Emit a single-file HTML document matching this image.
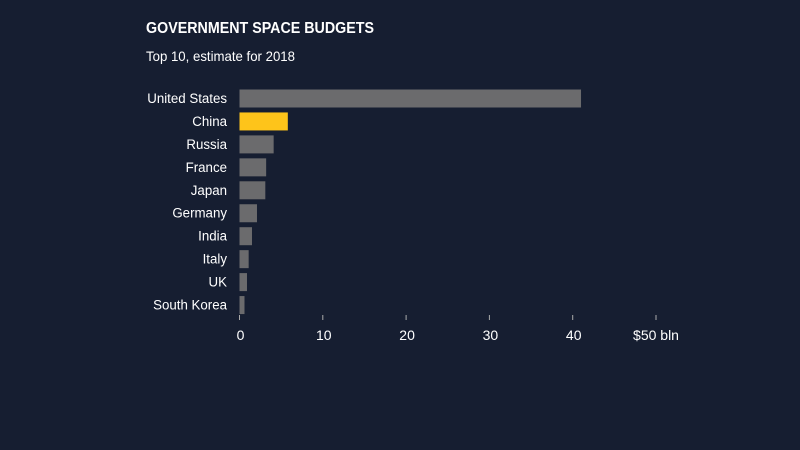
<!DOCTYPE html>
<html><head><meta charset="utf-8"><style>
html,body{margin:0;padding:0;background:#161e31;}
svg{display:block;font-family:"Liberation Sans",sans-serif;}
</style></head><body>
<svg id="chart" width="800" height="450">
<rect width="800" height="450" fill="#161e31"/>
<text x="146" y="33" fill="#fff" font-size="16" font-weight="bold" textLength="228" lengthAdjust="spacingAndGlyphs">GOVERNMENT SPACE BUDGETS</text>
<text x="146" y="61" fill="#fff" font-size="14" textLength="149" lengthAdjust="spacingAndGlyphs">Top 10, estimate for 2018</text>
<g id="bars"></g><g id="axis"></g>
</svg>
<script>
const categories=["United States","China","Russia","France","Japan","Germany","India","Italy","UK","South Korea"];
const values=[41.0,5.8,4.1,3.2,3.1,2.1,1.5,1.1,0.9,0.6];
const highlight=["China"];
const tickValues=[0,10,20,30,40,50];
const tickLabels=["0","10","20","30","40","$50 bln"];
const NS="http://www.w3.org/2000/svg";
const x=v=>239.5+v*8.33;
const y=i=>89.5+i*22.95;
const bars=document.getElementById('bars'),axis=document.getElementById('axis');
categories.forEach((c,i)=>{
  const r=document.createElementNS(NS,'rect');
  r.setAttribute('x',x(0));r.setAttribute('y',y(i));
  r.setAttribute('width',x(values[i])-x(0));r.setAttribute('height',18);
  r.setAttribute('fill',highlight.includes(c)?'#fec41a':'#6b6b6d');
  
  
  bars.appendChild(r);
  const t=document.createElementNS(NS,'text');
  t.setAttribute('x',227);t.setAttribute('y',y(i)+13.5);
  t.setAttribute('text-anchor','end');t.setAttribute('fill','#fff');t.setAttribute('font-size','14');
  t.setAttribute('transform','translate(227,0) scale(0.95,1) translate(-227,0)');
  t.textContent=c;
  
  
  bars.appendChild(t);
});
tickValues.forEach((v,i)=>{
  const l=document.createElementNS(NS,'line');
  l.setAttribute('x1',x(v));l.setAttribute('x2',x(v));l.setAttribute('y1',315);l.setAttribute('y2',320);
  l.setAttribute('stroke','#aaa');l.setAttribute('stroke-width','1');
  
  
  axis.appendChild(l);
  const t=document.createElementNS(NS,'text');
  t.setAttribute('x',x(v)+(i===tickLabels.length-1?0:1));t.setAttribute('y',340);
  t.setAttribute('text-anchor','middle');t.setAttribute('fill','#fff');t.setAttribute('font-size','14');
  t.textContent=tickLabels[i];
  
  
  axis.appendChild(t);
});
</script>
</body></html>
